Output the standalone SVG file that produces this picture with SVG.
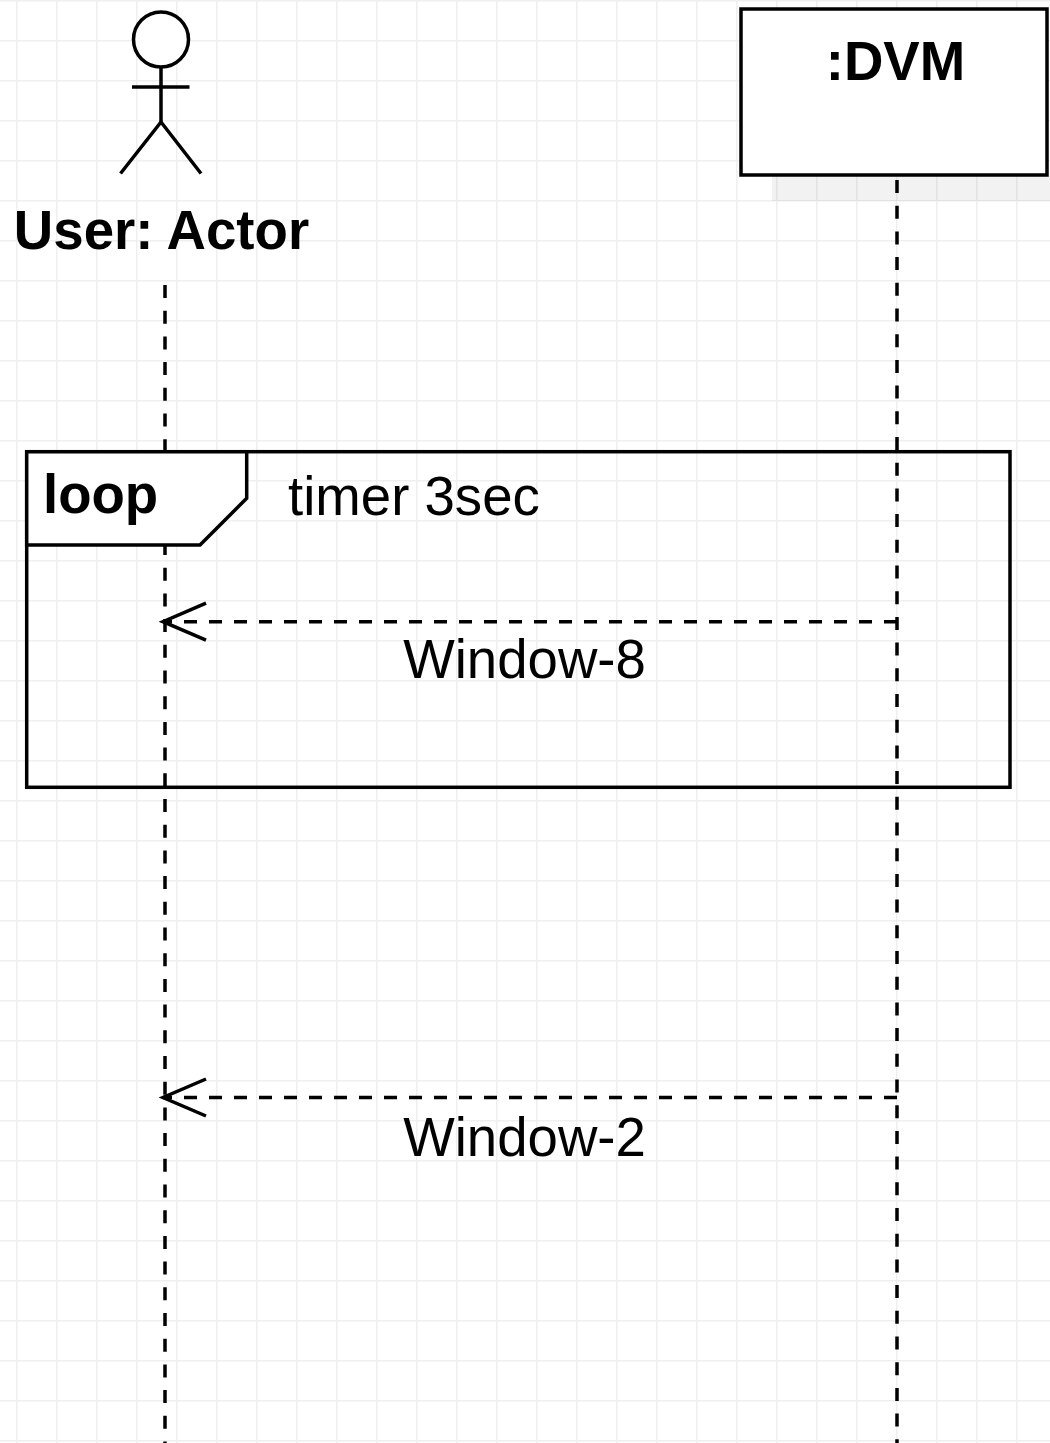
<svg xmlns="http://www.w3.org/2000/svg" width="1050" height="1443" viewBox="0 0 1050 1443">
  <style>
    .txt { font-family: "Liberation Sans", Arial, sans-serif; font-size: 54.6px; fill: #000000; }
    .bold { font-weight: bold; }
    .shape { stroke: #000000; stroke-width: 3.5; }
    .life { stroke: #000000; stroke-width: 3.5; stroke-dasharray: 13 12.7; fill: none; }
    .msg { stroke: #000000; stroke-width: 3.5; stroke-dasharray: 13 12; fill: none; }
  </style>
  <defs>
    <pattern id="grid" patternUnits="userSpaceOnUse" x="16" y="0" width="40" height="40">
      <path d="M0 0.75 H40 M0.75 0 V40" fill="none" stroke="#efefef" stroke-width="1.5"/>
    </pattern>
    <marker id="openArrow" markerUnits="userSpaceOnUse" viewBox="-50 -25 55 50" markerWidth="55" markerHeight="50" refX="0" refY="0" orient="auto">
      <path d="M-43 -18.5 L0 0 L-43 18.5" fill="none" stroke="#000000" stroke-width="3.5" stroke-dasharray="none"/>
    </marker>
  </defs>

  <rect x="0" y="0" width="1050" height="1443" fill="#ffffff"/>
  <rect x="0" y="0" width="1050" height="1443" fill="url(#grid)"/>

  <g id="dvm-shadow">
    <rect x="772" y="176" width="278" height="25" fill="#000000" fill-opacity="0.05"/>
  </g>

  <g id="connectors">
    <line id="lifeline-user" class="life" x1="165" y1="285" x2="165" y2="1443"/>
    <line id="lifeline-dvm" class="life" x1="897" y1="180" x2="897" y2="1443"/>
    <line id="msg-window8" class="msg" x1="897" y1="621.7" x2="163" y2="621.7" marker-end="url(#openArrow)"/>
    <line id="msg-window2" class="msg" x1="897" y1="1097.5" x2="163" y2="1097.5" marker-end="url(#openArrow)"/>
  </g>

  <g id="actor-user">
    <circle cx="161" cy="39.5" r="27.5" fill="#ffffff" class="shape"/>
    <line x1="161" y1="67" x2="161" y2="122" class="shape"/>
    <line x1="132" y1="87" x2="189.5" y2="87" class="shape"/>
    <polyline points="120.5,173.5 161,122 201,173.5" fill="none" class="shape"/>
    <text class="txt bold" x="161.5" y="249" text-anchor="middle">User: Actor</text>
  </g>

  <g id="node-dvm">
    <rect x="741" y="9" width="306" height="166" fill="#ffffff" class="shape"/>
    <text class="txt bold" x="895.5" y="80" text-anchor="middle">:DVM</text>
  </g>

  <g id="frame-loop">
    <rect x="26.7" y="451.7" width="983.3" height="335.6" fill="none" class="shape"/>
    <path d="M26.7 451.7 H246.7 V498.3 L200 545 H26.7 Z" fill="#ffffff" class="shape"/>
    <text class="txt bold" x="43" y="513">loop</text>
    <text class="txt" x="288" y="515">timer 3sec</text>
  </g>

  <g id="labels">
    <text class="txt" x="524.5" y="678" text-anchor="middle">Window-8</text>
    <text class="txt" x="524.5" y="1156" text-anchor="middle">Window-2</text>
  </g>
</svg>
